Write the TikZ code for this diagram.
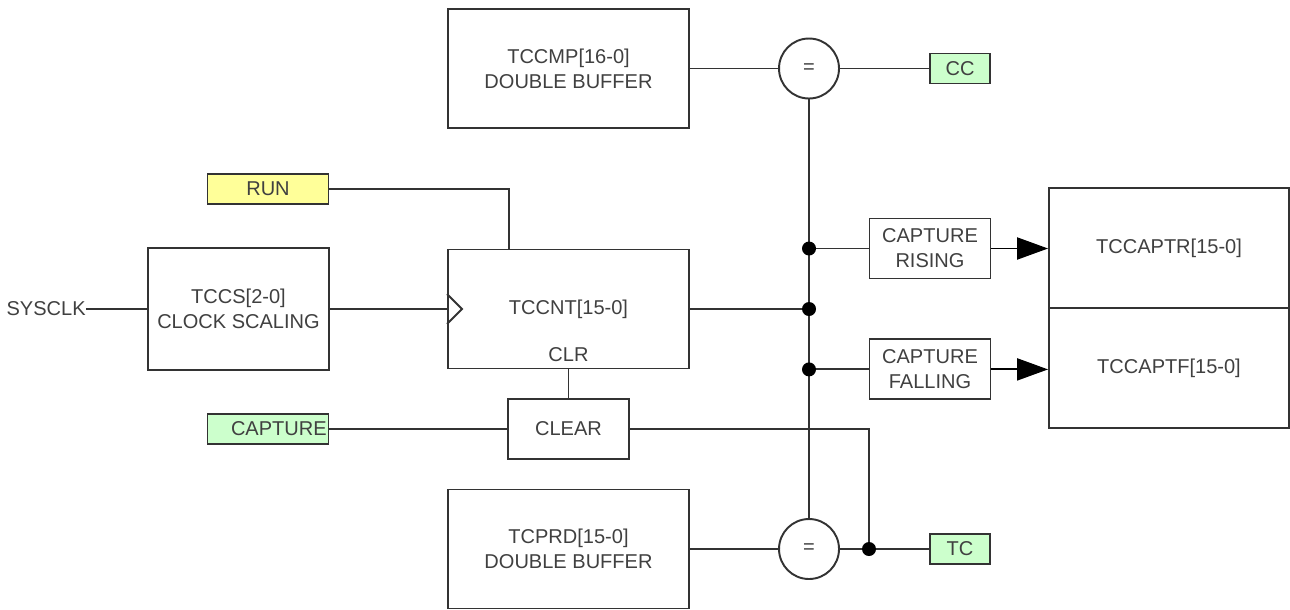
\documentclass[tikz,border=0pt]{standalone}
\usepackage{fontspec}
\setmainfont{Liberation Sans}
\usepackage{xcolor}
\usetikzlibrary{positioning, shapes.geometric, arrows.meta}
\definecolor{wiregray}{HTML}{333333}
\definecolor{textgray}{HTML}{404040}
\definecolor{flaggreen}{HTML}{CCFFCC}
\definecolor{flagyellow}{HTML}{FFFF99}

\begin{document}
\begin{tikzpicture}[x=0.02cm, y=-0.02cm,
        % Define styles for the components
        every node/.style={font=\fontsize{11.4}{14.2}\selectfont, text=textgray},
        wire/.style={draw=wiregray, line width=1.1pt},
        block/.style={rectangle, draw=wiregray, line width=1.1pt, align=center, minimum width=4.82cm, minimum height=2.38cm, fill=white},
        smallblock/.style={block, minimum width=2.42cm, minimum height=1.2cm},
        flag/.style={rectangle, draw=wiregray, line width=1.1pt, minimum width=1.2cm, minimum height=0.6cm, inner sep=1pt, fill=flaggreen},
        cmp/.style={circle, draw=wiregray, line width=1.1pt, minimum size=1.2cm, inner sep=0pt},
        junction/.style={circle, fill=black, inner sep=0pt, minimum size=0.28cm},
        arrow/.style={wire, draw=black, -{Triangle[length=0.62cm, width=0.44cm]}}
    ]
    \useasboundingbox (0,0) rectangle (1290,609);

    % Define nodes
    \node[block] (cmpbuf) at (568.5,68.5) {TCCMP[16-0]\\DOUBLE BUFFER};
    \node[cmp] (eqtop) at (809,68.5) {=};
    \node[flag] (cc) at (960,68.5) {CC};
    \node[flag, fill=flagyellow, minimum width=2.42cm] (run) at (268,189) {RUN};
    \node[block, minimum width=3.62cm, minimum height=2.44cm] (tccs) at (238.5,309) {TCCS[2-0]\\CLOCK SCALING};
    \node[anchor=east, inner sep=0pt] (sysclk) at (86,309) {SYSCLK};
    \node[block] (cnt) at (568.5,309) {TCCNT[15-0]};
    \node (clr) at ([yshift=0.3cm]cnt.south) {CLR};
    \node[smallblock] (clear) at (568.5,429) {CLEAR};
    \node[flag, text width=2.35cm, align=right] (capture) at (268,429) {CAPTURE};
    \node[block] (prdbuf) at (568.5,549) {TCPRD[15-0]\\DOUBLE BUFFER};
    \node[cmp] (eqbot) at (809,549) {=};
    \node[flag] (tc) at (960,549) {TC};
    \node[smallblock] (rise) at (930,248.5) {CAPTURE\\RISING};
    \node[smallblock, below=1.18cm of rise] (fall) {CAPTURE\\FALLING};
    \node[block, minimum width=4.8cm, minimum height=2.4cm] (captr) at (1169,248) {TCCAPTR[15-0]};
    \node[block, minimum width=4.8cm, minimum height=2.4cm] (captf) at (1169,368) {TCCAPTF[15-0]};

    % Junction points
    \coordinate (jr) at (eqtop |- rise);
    \coordinate (jc) at (eqtop |- cnt);
    \coordinate (jf) at (eqtop |- fall);
    \coordinate (jtc) at ([xshift=1.2cm]eqbot.center);
    \coordinate (runin) at ([xshift=-1.19cm]cnt.north);

    % Draw wires
    \draw[wire] (sysclk) -- (tccs);
    \draw[wire] (tccs) -- (cnt);
    \draw[wire] ([yshift=0.3cm]cnt.west) -- ([xshift=0.3cm]cnt.west) -- ([yshift=-0.3cm]cnt.west);
    \draw[wire] (run) -| (runin);
    \draw[wire] (cnt) -- (clear);
    \draw[wire] (capture) -- (clear);
    \draw[wire] (clear) -| (jtc);
    \draw[wire] (cmpbuf) -- (eqtop);
    \draw[wire] (eqtop) -- (cc);
    \draw[wire] (eqtop) -- (eqbot);
    \draw[wire] (prdbuf) -- (eqbot);
    \draw[wire] (eqbot) -- (tc);
    \draw[wire] (cnt) -- (jc);
    \draw[wire] (jr) -- (rise);
    \draw[wire] (jf) -- (fall);
    \draw[arrow] (rise.east) -- (rise.east -| captr.west);
    \draw[arrow] (fall.east) -- (fall.east -| captf.west);

    % Add junction dots
    \node[junction] (jrdot) at (jr) {};
    \node[junction] (jcdot) at (jc) {};
    \node[junction] (jfdot) at (jf) {};
    \node[junction] (jtcdot) at (jtc) {};
\end{tikzpicture}
\end{document}
